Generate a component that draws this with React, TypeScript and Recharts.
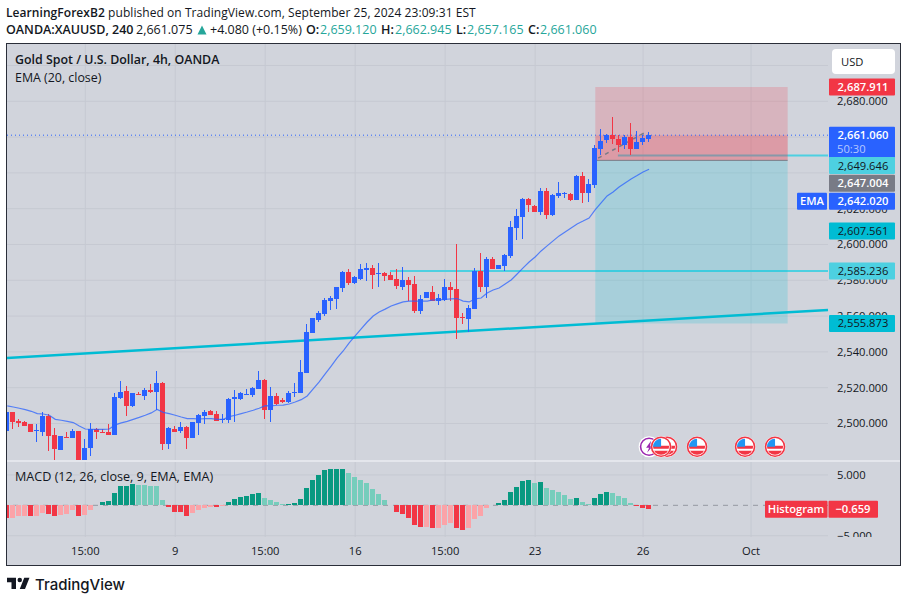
import React from "react";
import {
  Bar,
  CartesianGrid,
  ComposedChart,
  Line,
  ReferenceArea,
  ReferenceDot,
  ReferenceLine,
  XAxis,
  YAxis,
} from "recharts";

const FONT = "'Open Sans', sans-serif";
const INK = "#131722";
const BLUE = "#2962ff";
const RED = "#f23645";
const CYAN = "#00bcd4";
const CYAN_LIGHT = "#4dd0e1";
const PANE = "#d1d4dc";
const GRID = "#c6c9d2";

const opens = [
  2496.0, 2506.4, 2501.4, 2500.8, 2499.7, 2495.8, 2495.2, 2504.2, 2493.6, 2485.2,
  2492.5, 2491.9, 2495.8, 2477.0, 2486.3, 2496.9, 2495.2, 2495.2, 2493.6, 2514.3,
  2518.2, 2509.8, 2516.5, 2515.4, 2518.7, 2517.6, 2522.6, 2488.6, 2496.9, 2495.8,
  2498.0, 2491.9, 2500.3, 2504.2, 2507.0, 2505.3, 2502.0, 2502.0, 2513.7, 2513.7,
  2515.9, 2515.9, 2519.3, 2524.3, 2507.5, 2515.4, 2513.1, 2512.0, 2517.0, 2517.0,
  2528.2, 2550.5, 2557.8, 2561.2, 2568.4, 2569.5, 2575.7, 2584.6, 2578.5, 2580.7,
  2585.8, 2586.9, 2583.5, 2584.1, 2583.0, 2580.7, 2576.3, 2580.2, 2577.9, 2562.8,
  2570.1, 2573.5, 2568.4, 2569.0, 2576.3, 2575.1, 2559.5, 2558.4, 2564.0, 2585.2,
  2576.3, 2591.9, 2586.3, 2588.0, 2593.6, 2609.2, 2615.4, 2625.4, 2621.5, 2618.2,
  2629.9, 2616.5, 2627.1, 2628.2, 2628.2, 2624.9, 2638.3, 2628.8, 2633.2, 2653.3,
  2658.4, 2661.0, 2658.9, 2655.6, 2660.1, 2653.4, 2657.3, 2659.12,
];
const highs = [
  2507.2, 2506.4, 2502.5, 2501.4, 2499.7, 2499.7, 2506.4, 2505.3, 2497.5, 2493.0,
  2495.2, 2496.9, 2495.8, 2491.3, 2500.3, 2497.5, 2496.9, 2499.7, 2517.0, 2523.7,
  2521.0, 2517.0, 2517.6, 2519.8, 2522.1, 2529.3, 2523.2, 2498.0, 2498.6, 2500.8,
  2498.6, 2500.8, 2505.3, 2507.5, 2507.5, 2507.0, 2505.3, 2514.3, 2518.7, 2517.6,
  2519.3, 2520.4, 2529.3, 2524.9, 2520.4, 2517.0, 2514.3, 2518.2, 2522.6, 2535.5,
  2555.6, 2558.9, 2562.8, 2570.1, 2571.2, 2576.3, 2585.2, 2586.3, 2582.4, 2589.1,
  2589.7, 2588.5, 2589.7, 2584.6, 2584.6, 2586.3, 2587.4, 2581.8, 2582.4, 2571.8,
  2573.5, 2576.8, 2572.4, 2580.7, 2579.0, 2600.3, 2561.7, 2566.2, 2586.9, 2595.2,
  2593.0, 2593.0, 2588.5, 2594.7, 2613.1, 2619.8, 2626.0, 2626.0, 2622.1, 2631.6,
  2631.6, 2628.2, 2634.9, 2629.3, 2628.8, 2638.8, 2640.5, 2636.6, 2655.6, 2664.5,
  2661.7, 2671.2, 2661.2, 2661.0, 2667.9, 2663.4, 2661.2, 2662.945,
];
const lows = [
  2495.2, 2496.9, 2498.0, 2498.6, 2495.2, 2489.7, 2493.0, 2484.6, 2479.6, 2485.2,
  2491.9, 2491.9, 2475.0, 2475.0, 2481.9, 2491.3, 2494.7, 2493.6, 2493.6, 2513.7,
  2504.2, 2509.2, 2515.9, 2513.1, 2517.0, 2507.5, 2485.2, 2485.8, 2495.2, 2494.7,
  2485.8, 2491.9, 2493.6, 2499.7, 2504.8, 2501.4, 2500.3, 2500.3, 2500.8, 2513.1,
  2515.9, 2514.8, 2519.3, 2502.5, 2500.8, 2510.3, 2511.5, 2511.5, 2514.8, 2517.0,
  2528.2, 2550.5, 2556.7, 2560.0, 2563.4, 2564.0, 2573.5, 2577.4, 2577.9, 2580.2,
  2579.6, 2575.1, 2576.3, 2579.6, 2580.2, 2575.1, 2574.6, 2568.4, 2561.7, 2561.2,
  2570.1, 2568.4, 2566.2, 2568.4, 2568.4, 2547.2, 2555.6, 2551.1, 2564.0, 2573.5,
  2570.1, 2586.3, 2586.3, 2585.2, 2592.5, 2602.5, 2603.1, 2618.2, 2618.2, 2616.5,
  2614.2, 2615.9, 2626.0, 2626.0, 2624.3, 2624.9, 2623.2, 2623.7, 2631.6, 2650.0,
  2656.7, 2656.1, 2651.7, 2653.4, 2650.0, 2653.4, 2655.6, 2657.165,
];
const closes = [
  2506.4, 2500.8, 2500.3, 2498.6, 2495.2, 2496.4, 2504.2, 2493.0, 2485.8, 2493.0,
  2491.9, 2495.8, 2477.0, 2486.3, 2496.9, 2495.2, 2494.7, 2493.6, 2514.8, 2517.6,
  2509.8, 2517.0, 2515.9, 2518.7, 2517.6, 2522.6, 2488.6, 2497.5, 2495.2, 2498.0,
  2491.9, 2500.8, 2504.8, 2506.4, 2504.8, 2501.4, 2502.5, 2513.7, 2514.8, 2517.0,
  2516.5, 2519.8, 2524.3, 2507.5, 2515.4, 2510.9, 2512.0, 2517.0, 2517.6, 2528.8,
  2551.1, 2558.9, 2561.7, 2569.0, 2570.1, 2576.3, 2584.6, 2578.5, 2581.8, 2586.3,
  2586.9, 2583.0, 2584.1, 2582.4, 2580.2, 2576.8, 2580.2, 2577.4, 2562.8, 2569.5,
  2573.5, 2568.4, 2570.1, 2576.3, 2574.6, 2558.9, 2558.9, 2564.5, 2585.2, 2576.3,
  2591.9, 2586.3, 2588.5, 2594.1, 2609.8, 2615.9, 2625.4, 2622.1, 2618.2, 2629.9,
  2616.5, 2627.7, 2628.8, 2628.8, 2624.9, 2638.3, 2628.8, 2633.8, 2653.9, 2657.8,
  2661.0, 2658.9, 2655.6, 2659.9, 2653.4, 2657.3, 2659.5, 2661.06,
];
const emaValues = [
  2509.8, 2509.2, 2508.5, 2507.7, 2506.8, 2505.5, 2505.3, 2504.6, 2502.3, 2501.8,
  2501.2, 2500.5, 2498.6, 2496.9, 2496.7, 2496.7, 2496.7, 2496.9, 2499.2, 2500.3,
  2501.2, 2502.3, 2503.4, 2504.6, 2505.9, 2507.9, 2506.2, 2505.5, 2504.6, 2503.6,
  2502.7, 2502.7, 2502.5, 2502.7, 2502.7, 2502.3, 2502.3, 2503.8, 2504.6, 2505.5,
  2506.4, 2507.4, 2508.5, 2510.0, 2509.8, 2510.2, 2510.3, 2510.9, 2512.0, 2513.3,
  2515.4, 2519.3, 2523.2, 2527.7, 2532.1, 2536.6, 2540.5, 2545.0, 2548.9, 2552.8,
  2556.7, 2560.0, 2562.3, 2563.9, 2565.6, 2566.8, 2567.9, 2568.4, 2568.4, 2568.4,
  2568.4, 2569.0, 2569.0, 2569.3, 2569.6, 2569.8, 2568.4, 2567.9, 2569.6, 2570.1,
  2572.9, 2574.6, 2575.7, 2577.9, 2580.2, 2583.5, 2586.9, 2590.2, 2593.0, 2596.4,
  2599.2, 2602.0, 2604.8, 2607.0, 2609.2, 2611.5, 2613.1, 2614.8, 2619.3, 2623.2,
  2627.1, 2629.3, 2632.1, 2634.4, 2636.6, 2638.5, 2640.5, 2642.02,
];
const histValues = [
  -2.05, -2.02, -1.8, -1.79, -1.81, -1.79, -1.2, -1.37, -1.8, -1.52,
  -1.37, -0.82, -1.8, -1.65, -0.7, 0.05, 0.49, 0.76, 2.08, 3.22,
  3.23, 3.55, 3.39, 3.38, 3.22, 3.21, 0.93, -0.22, -1.04, -1.15,
  -1.69, -1.31, -0.82, -0.38, -0.22, -0.23, -0.16, 0.55, 1.04, 1.37,
  1.53, 1.86, 2.08, 1.26, 0.93, 0.55, 0.22, 0.23, 0.33, 1.09,
  2.9, 4.21, 4.97, 5.74, 5.9, 5.91, 6.01, 5.36, 4.7, 4.21,
  3.72, 2.73, 1.91, 0.93, 0.11, -1.04, -1.48, -2.02, -3.28, -3.61,
  -3.6, -3.77, -3.76, -3.28, -2.95, -3.77, -4.1, -3.77, -2.3, -1.8,
  -0.49, 0.11, 0.44, 0.93, 2.24, 3.06, 4.04, 4.21, 3.72, 3.88,
  2.9, 2.57, 2.19, 1.75, 1.09, 1.26, 0.6, 0.27, 1.26, 1.91,
  2.24, 2.08, 1.58, 1.26, 0.44, -0.16, -0.44, -0.659,
];

const timeTicks = [13, 28, 43, 58, 73, 88, 106, 124];
const timeLabels = ["15:00", "9", "15:00", "16", "15:00", "23", "26", "Oct"];
const priceTicks = [2500, 2520, 2540, 2560, 2580, 2600, 2620, 2640, 2660, 2680, 2700];
const hiddenPriceLabels = [2640, 2660, 2700];
const macdTicks = [-5, 5];

const tagPrices = [2687.911, 2661.06, 2649.646, 2647.004, 2642.02, 2607.561, 2585.236, 2555.873];
const macdTagValues = [-0.659];
const eventBars = [107, 110, 109, 115, 123, 128];
const eventPrice = 2487;

const targetPrice = 2687.911;
const entryPrice = 2647.004;
const stopPrice = 2555.873;
const lastPrice = 2661.06;
const emaPrice = 2642.02;
const level1 = 2649.646;
const level2 = 2585.236;
const trendStart = 2536.6;
const trendEnd = 2563.4;
const toolStart = 98.03;
const toolEnd = 130.1;

const X_DOMAIN: [number, number] = [-0.05, 136.83];
const PRICE_DOMAIN: [number, number] = [2479.6, 2712];
const MACD_DOMAIN: [number, number] = [-5.21, 7.29];
const PRICE_AXIS_W = 71;

const fmt = (v: number) =>
  v.toLocaleString("en-US", { minimumFractionDigits: 3, maximumFractionDigits: 3 });

const candles = opens.map((o, i) => ({
  i,
  o,
  h: highs[i],
  l: lows[i],
  c: closes[i],
  ema: emaValues[i],
  range: [lows[i], highs[i]],
}));

const histRows = histValues.map((v, i) => {
  const prev = i > 0 ? histValues[i - 1] : v + 0.01;
  const fill =
    v >= 0 ? (v >= prev ? "#089981" : "#76cdbc") : v <= prev ? RED : "#fba3a8";
  return { i, v, fill };
});

const Candle = (props: any) => {
  const { x, y, width, height, payload } = props;
  const top = Math.min(y, y + height);
  const full = Math.abs(height);
  const unit = full / (payload.h - payload.l);
  const upper = Math.max(payload.o, payload.c);
  const lower = Math.min(payload.o, payload.c);
  const color = payload.c >= payload.o ? BLUE : RED;
  const left = Math.round(x);
  const bodyTop = top + (payload.h - upper) * unit;
  const bodyH = Math.max((upper - lower) * unit, 1);
  return (
    <g shapeRendering="crispEdges">
      <rect x={left + 2} y={top} width={1} height={full} fill={color} />
      <rect x={left} y={bodyTop} width={width} height={bodyH} fill={color} />
    </g>
  );
};

const HistBar = (props: any) => {
  const { x, y, width, height, payload } = props;
  return (
    <rect
      x={Math.round(x)}
      y={Math.min(y, y + height)}
      width={width}
      height={Math.abs(height)}
      fill={payload.fill}
      shapeRendering="crispEdges"
    />
  );
};

const tagLook: Record<number, { bg: string; fg: string; shift: number }> = {
  2687.911: { bg: RED, fg: "#fff", shift: 0 },
  2661.06: { bg: BLUE, fg: "#fff", shift: 0 },
  2649.646: { bg: CYAN_LIGHT, fg: INK, shift: 10 },
  2647.004: { bg: "#787b86", fg: "#fff", shift: 23 },
  2642.02: { bg: BLUE, fg: "#fff", shift: 32 },
  2607.561: { bg: CYAN, fg: INK, shift: 0 },
  2585.236: { bg: CYAN_LIGHT, fg: INK, shift: 0 },
  2555.873: { bg: CYAN, fg: INK, shift: 0 },
};

// the tag axis sits right of the price axis, so step back to the pane edge
const PriceTag = (props: any) => {
  const { y, payload } = props;
  const x = props.x - PRICE_AXIS_W;
  const look = tagLook[payload.value];
  const mid = y + look.shift;
  const isLast = payload.value === lastPrice;
  const isEma = payload.value === emaPrice;
  return (
    <g fontFamily={FONT} fontSize={11.2} fontWeight={600}>
      {isEma && (
        <>
          <rect x={x - 31} y={mid - 8.5} width={30} height={17} rx={1} fill={BLUE} />
          <text x={x - 16} y={mid + 4} fill="#fff" textAnchor="middle">EMA</text>
        </>
      )}
      <rect x={x + 1} y={mid - 8.5} width={66} height={isLast ? 31 : 17} rx={1} fill={look.bg} />
      <text x={x + 35} y={mid + 4} fill={look.fg} fontWeight={look.fg === INK ? 400 : 600} textAnchor="middle">{fmt(payload.value)}</text>
      {isLast && (
        <text x={x + 9} y={mid + 18} fill="#b6c8ff" fontWeight={400}>50:30</text>
      )}
    </g>
  );
};

const MacdTag = (props: any) => {
  const { y, payload } = props;
  const x = props.x - PRICE_AXIS_W;
  return (
    <g fontFamily={FONT} fontSize={11.2} fontWeight={600} fill="#fff">
      <rect x={x - 63} y={y - 8.5} width={62.5} height={17} rx={1} fill={RED} />
      <text x={x - 32} y={y + 4} textAnchor="middle">Histogram</text>
      <rect x={x + 0.5} y={y - 8.5} width={49.5} height={17} rx={1} fill={RED} />
      <text x={x + 25} y={y + 4} textAnchor="middle">{"\u2212" + Math.abs(payload.value).toFixed(3)}</text>
    </g>
  );
};

const EventIcon = (props: any) => {
  const { cx, cy, purple } = props;
  if (purple) {
    return (
      <g>
        <circle cx={cx} cy={cy} r={10.5} fill="#fff" />
        <circle cx={cx} cy={cy} r={8.5} fill="#fff" stroke="#9c27b0" strokeWidth={1.6} />
        <path d={`M${cx + 2} ${cy - 6}L${cx - 3} ${cy + 1}H${cx}L${cx - 2} ${cy + 6}L${cx + 4} ${cy - 1}H${cx + 1}Z`} fill="#9c27b0" />
      </g>
    );
  }
  const id = `flag${Math.round(cx)}`;
  return (
    <g>
      <circle cx={cx} cy={cy} r={10.5} fill="#fff" />
      <clipPath id={id}>
        <circle cx={cx} cy={cy} r={8} />
      </clipPath>
      <g clipPath={`url(#${id})`}>
        <rect x={cx - 9} y={cy - 1} width={18} height={3} fill={RED} />
        <rect x={cx - 9} y={cy + 4} width={18} height={5} fill={RED} />
        <rect x={cx - 9} y={cy - 9} width={9} height={9} fill="#2196f3" />
      </g>
      <circle cx={cx} cy={cy} r={9.5} fill="none" stroke={RED} strokeWidth={1.6} />
    </g>
  );
};

const axisFont = { fontFamily: FONT, fontSize: 11.2, fill: INK };

const at = (x: number, y: number, extra: React.CSSProperties = {}): React.CSSProperties => ({
  position: "absolute",
  left: x,
  top: y,
  whiteSpace: "nowrap",
  fontFamily: FONT,
  color: INK,
  ...extra,
});

// quote line pieces: text, left edge, style
const teal = "#26a69a";
const quoteLine: [string, number, number, string][] = [
  ["OANDA:XAUUSD, 240", 6, 600, INK],
  ["2,661.075", 136, 400, INK],
  ["+4.080 (+0.15%)", 210, 400, INK],
  ["O:", 306, 600, INK],
  ["2,659.120", 320, 400, teal],
  ["H:", 381, 600, INK],
  ["2,662.945", 395, 400, teal],
  ["L:", 456, 600, INK],
  ["2,657.165", 467, 400, teal],
  ["C:", 528, 600, INK],
  ["2,661.060", 540, 400, teal],
];

const App = () => {
  return (
    <div style={{ position: "absolute", left: 0, top: 0, width: 907, height: 602, background: "#fff", overflow: "hidden" }}>
      <div style={{ position: "absolute", left: 6, top: 43, width: 893, height: 521, background: PANE, border: "1.5px solid #2a2e39", boxSizing: "content-box" }} />

      <div style={{ position: "absolute", left: 0, top: 0 }}>
        <ComposedChart width={907} height={602} data={candles} margin={{ top: 44, right: 7, bottom: 142, left: 7 }}>
          <CartesianGrid xAxisId="time" yAxisId="price" stroke={GRID} strokeWidth={1} syncWithTicks />
          <XAxis xAxisId="time" dataKey="i" type="number" scale="linear" domain={X_DOMAIN} ticks={timeTicks} allowDataOverflow hide />
          <YAxis
            yAxisId="price"
            orientation="right"
            type="number"
            domain={PRICE_DOMAIN}
            allowDataOverflow
            ticks={priceTicks}
            interval={0}
            width={PRICE_AXIS_W}
            axisLine={false}
            tickLine={false}
            tickSize={0}
            tickMargin={9}
            tick={axisFont}
            tickFormatter={(v: number) => (hiddenPriceLabels.includes(v) ? "" : fmt(v))}
          />

          <ReferenceLine xAxisId="time" yAxisId="price" segment={[{ x: 101.8, y: level1 }, { x: X_DOMAIN[1], y: level1 }]} stroke={CYAN_LIGHT} strokeWidth={2} zIndex={50} />
          <ReferenceLine xAxisId="time" yAxisId="price" segment={[{ x: X_DOMAIN[0], y: trendStart }, { x: X_DOMAIN[1], y: trendEnd }]} stroke={CYAN} strokeWidth={2.5} zIndex={50} />
          <ReferenceLine xAxisId="time" yAxisId="price" segment={[{ x: 63.8, y: level2 }, { x: X_DOMAIN[1], y: level2 }]} stroke={CYAN_LIGHT} strokeWidth={2} zIndex={50} />

          <ReferenceArea xAxisId="time" yAxisId="price" x1={toolStart} x2={toolEnd} y1={entryPrice} y2={targetPrice} fill={RED} fillOpacity={0.2} stroke="none" />
          <ReferenceArea xAxisId="time" yAxisId="price" x1={toolStart} x2={toolEnd} y1={entryPrice} y2={lastPrice} fill={RED} fillOpacity={0.2} stroke="none" />
          <ReferenceArea xAxisId="time" yAxisId="price" x1={toolStart} x2={toolEnd} y1={stopPrice} y2={entryPrice} fill={CYAN} fillOpacity={0.2} stroke="none" />
          <ReferenceLine xAxisId="time" yAxisId="price" segment={[{ x: toolStart, y: entryPrice }, { x: toolEnd, y: entryPrice }]} stroke="#787b86" strokeWidth={1} zIndex={150} />
          <ReferenceLine xAxisId="time" yAxisId="price" segment={[{ x: 98.5, y: 2648.2 }, { x: 106.3, y: 2662.5 }]} stroke="#787b86" strokeWidth={1.5} strokeDasharray="4 4" zIndex={150} />
          <ReferenceLine xAxisId="time" yAxisId="price" y={lastPrice} stroke={BLUE} strokeWidth={1} strokeDasharray="1 3" zIndex={150} />

          <Bar xAxisId="time" yAxisId="price" dataKey="range" barSize={5} shape={<Candle />} isAnimationActive={false} />
          <Line xAxisId="time" yAxisId="price" dataKey="ema" stroke={BLUE} strokeOpacity={0.75} strokeWidth={1.2} dot={false} activeDot={false} isAnimationActive={false} />

          {eventBars.map((b, k) => (
            <ReferenceDot
              key={b}
              xAxisId="time"
              yAxisId="price"
              x={b}
              y={eventPrice}
              r={10}
              shape={<EventIcon purple={k === 0} />}
            />
          ))}

          <YAxis
            yAxisId="tagsTop"
            orientation="right"
            type="number"
            domain={PRICE_DOMAIN}
            allowDataOverflow
            ticks={tagPrices}
            interval={0}
            width={1}
            axisLine={false}
            tickLine={false}
            tickSize={0}
            tickMargin={0}
            tick={<PriceTag />}
          />
        </ComposedChart>
      </div>

      <div style={{ position: "absolute", left: 0, top: 0 }}>
        <ComposedChart width={907} height={602} data={histRows} margin={{ top: 461, right: 7, bottom: 37, left: 7 }}>
          <CartesianGrid xAxisId="time" yAxisId="macd" stroke={GRID} strokeWidth={1} syncWithTicks />
          <XAxis
            xAxisId="time"
            dataKey="i"
            type="number"
            scale="linear"
            domain={X_DOMAIN}
            ticks={timeTicks}
            interval={0}
            allowDataOverflow
            height={28}
            axisLine={false}
            tickLine={false}
            tickSize={0}
            tickMargin={10}
            tick={axisFont}
            tickFormatter={(v: number) => timeLabels[timeTicks.indexOf(v)]}
          />
          <YAxis
            yAxisId="macd"
            orientation="right"
            type="number"
            domain={MACD_DOMAIN}
            allowDataOverflow
            ticks={macdTicks}
            interval={0}
            width={PRICE_AXIS_W}
            axisLine={false}
            tickLine={false}
            tickSize={0}
            tickMargin={9}
            tick={axisFont}
            tickFormatter={(v: number) => (v < 0 ? "\u2212" : "") + Math.abs(v).toFixed(3)}
          />
          <ReferenceLine xAxisId="time" yAxisId="macd" y={0} stroke="#9598a1" strokeWidth={1} strokeDasharray="5 5" zIndex={50} />
          <Bar xAxisId="time" yAxisId="macd" dataKey="v" barSize={5} shape={<HistBar />} isAnimationActive={false} />
          <YAxis
            yAxisId="macdTag"
            orientation="right"
            type="number"
            domain={MACD_DOMAIN}
            allowDataOverflow
            ticks={macdTagValues}
            interval={0}
            width={1}
            axisLine={false}
            tickLine={false}
            tickSize={0}
            tickMargin={0}
            tick={<MacdTag />}
          />
        </ComposedChart>
      </div>

      <div style={{ position: "absolute", left: 7, top: 460, width: 893, height: 1.5, background: "#e4e6ec" }} />
      <div style={{ position: "absolute", left: 829, top: 537, width: 70, height: 26, background: PANE }} />
      <div style={{ ...at(832, 49), width: 63, height: 25, background: "#fff", borderRadius: 4, fontSize: 11.2, lineHeight: "25px", paddingLeft: 9, boxSizing: "border-box" }}>USD</div>

      <div style={at(6, 5, { fontSize: 12, lineHeight: "16px", letterSpacing: 0.06 })}>
        <b style={{ fontWeight: 600 }}>LearningForexB2</b> published on TradingView.com, September 25, 2024 23:09:31 EST
      </div>
      {quoteLine.map(([text, x, weight, color]) => (
        <div key={text} style={at(x, 22, { fontSize: 12.5, lineHeight: "16px", fontWeight: weight, color })}>{text}</div>
      ))}
      <svg style={{ position: "absolute", left: 197, top: 25 }} width={10} height={10} viewBox="0 0 10 10">
        <path d="M5 0.5L9.5 9.5H0.5Z" fill={teal} />
      </svg>
      <div style={at(15, 52, { fontSize: 12.4, fontWeight: 600, lineHeight: "16px" })}>Gold Spot / U.S. Dollar, 4h, OANDA</div>
      <div style={at(15, 70, { fontSize: 12.4, lineHeight: "16px" })}>EMA (20, close)</div>
      <div style={at(15, 469, { fontSize: 12.6, lineHeight: "16px" })}>MACD (12, 26, close, 9, EMA, EMA)</div>

      <svg style={{ position: "absolute", left: 5, top: 574 }} width={28} height={18} viewBox="0 0 36 24">
        <path d="M14 5H2v6h6v9h6V5Zm12 15h-7l6-15h7l-6 15Zm-7-9a3 3 0 1 0 0-6 3 3 0 0 0 0 6Z" fill={INK} />
      </svg>
      <div style={at(35, 575, { fontFamily: "Inter, sans-serif", fontSize: 15, fontWeight: 500, lineHeight: "20px" })}>TradingView</div>
    </div>
  );
};

export default App;
